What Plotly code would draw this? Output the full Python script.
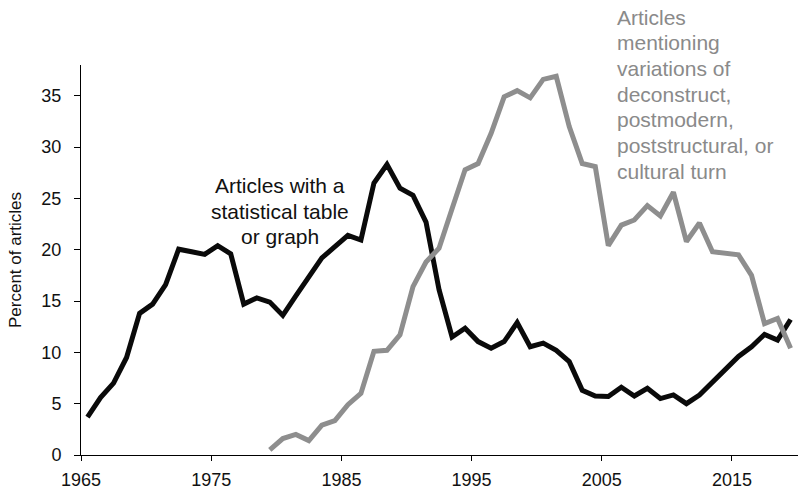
import plotly.graph_objects as go

years = list(range(1965, 2020))

stat_table = [3.7, 5.6, 7.0, 9.5, 13.8, 14.7, 16.6, 20.05, 19.8, 19.55,
              20.4, 19.6, 14.7, 15.3, 14.9, 13.6, 15.5, 17.4, 19.2, 20.3,
              21.4, 20.95, 26.5, 28.3, 26.0, 25.3, 22.7, 16.1, 11.5, 12.35,
              11.05, 10.4, 11.05, 12.9, 10.55, 10.9, 10.2, 9.1, 6.3, 5.75,
              5.7, 6.6, 5.75, 6.5, 5.5, 5.85, 5.0, 5.85, 7.05, 8.3,
              9.6, 10.55, 11.75, 11.2, 13.2]

grey_years = list(range(1979, 2020))
postmodern = [0.5, 1.6, 2.0, 1.4, 2.9, 3.35, 4.9, 6.0, 10.1, 10.2,
              11.7, 16.4, 18.8, 20.15, 24.0, 27.8, 28.4, 31.35, 34.9, 35.5,
              34.8, 36.6, 36.9, 32.0, 28.4, 28.1, 20.4, 22.4, 22.9, 24.3,
              23.3, 25.6, 20.8, 22.6, 19.8, 19.65, 19.5, 17.5, 12.8, 13.3,
              10.4]

x_tick_labels = ["1965", "1975", "1985", "1995", "2005", "2015"]
y_ticks = [0, 5, 10, 15, 20, 25, 30, 35]

black_label = ["Articles with a", "statistical table", "or graph"]
grey_label = ["Articles", "mentioning", "variations of", "deconstruct,",
              "postmodern,", "poststructural, or", "cultural turn"]

FONT = "Liberation Sans, Arial, sans-serif"
GREY = "#8e8e8e"

fig = go.Figure()
fig.add_trace(go.Scatter(x=years, y=stat_table, mode="lines",
                         line=dict(color="#0a0a0a", width=5),
                         hoverinfo="skip", showlegend=False))
fig.add_trace(go.Scatter(x=grey_years, y=postmodern, mode="lines",
                         line=dict(color=GREY, width=5),
                         hoverinfo="skip", showlegend=False))

# category-style ticks: boundaries sit half a year before each labelled year
tickvals = [int(t) - 0.5 for t in x_tick_labels]

for i, t in enumerate(black_label):
    fig.add_annotation(x=1979.8, y=26.25 - 2.48 * i, xref="x", yref="y",
                       text=t, showarrow=False, xanchor="center", yanchor="middle",
                       font=dict(family=FONT, size=21, color="#111111"))
for i, t in enumerate(grey_label):
    fig.add_annotation(x=2005.55, y=(438 - 25.7 * i) / 390, xref="x", yref="paper",
                       text=t, showarrow=False, xanchor="left", yanchor="middle",
                       font=dict(family=FONT, size=21, color="#8a8a8a"))

fig.update_layout(
    width=800, height=492,
    margin=dict(l=81, r=2, t=65, b=37),
    paper_bgcolor="white", plot_bgcolor="white",
    font=dict(family=FONT, size=18, color="#111111"),
    xaxis=dict(range=[1964.5, 2019.57], tickvals=tickvals, ticktext=x_tick_labels,
               showgrid=False, zeroline=False, showline=True, linecolor="#000000",
               linewidth=1, ticks="outside", ticklen=5, tickcolor="#000000",
               tickfont=dict(size=18, color="#111111"), ticklabelstandoff=3,
               automargin=False),
    yaxis=dict(range=[0, 38], tickvals=y_ticks, showgrid=False, zeroline=False,
               showline=True, linecolor="#000000", linewidth=1, ticks="outside",
               ticklen=6, tickcolor="#000000", tickfont=dict(size=18, color="#111111"),
               ticklabelstandoff=9, automargin=False,
               title=dict(text="Percent of articles", standoff=15,
                          font=dict(size=17, color="#111111"))),
)

fig.write_html("out.html", config={"displayModeBar": False},
               post_script="document.body.style.margin='0';document.body.style.overflow='hidden';")
